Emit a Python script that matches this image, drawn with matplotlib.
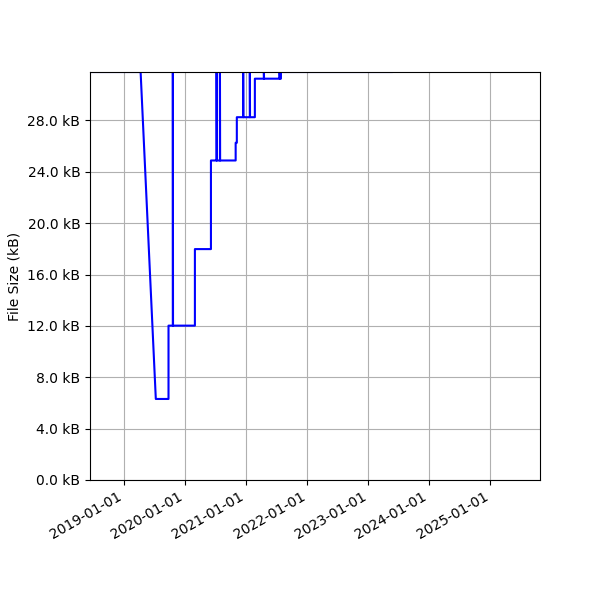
import matplotlib
matplotlib.use("Agg")
import matplotlib.pyplot as plt
import matplotlib.dates as mdates
from matplotlib.ticker import FuncFormatter, MultipleLocator
import numpy as np

# Data: (date, file size in kB)
dates = [
    "2018-06-10", "2019-04-09", "2019-07-09", "2019-09-23", "2019-09-23",
    "2019-10-19", "2019-10-19", "2019-10-20", "2020-02-28", "2020-02-28",
    "2020-06-03", "2020-06-03", "2020-07-07", "2020-07-07", "2020-07-08",
    "2020-07-27", "2020-07-27", "2020-07-28", "2020-10-29", "2020-10-29",
    "2020-11-05", "2020-11-05", "2020-12-13", "2020-12-13", "2020-12-14",
    "2021-01-22", "2021-01-22", "2021-01-23", "2021-02-21", "2021-02-21",
    "2021-04-16", "2021-04-16", "2021-04-17", "2021-07-19", "2021-07-19",
    "2021-07-20", "2021-07-27", "2021-07-27", "2023-05-21",
]
sizes_kb = [
    31.77, 31.77, 6.31, 6.31, 12.02,
    12.02, 31.77, 12.02, 12.02, 17.98,
    17.98, 24.88, 24.88, 31.77, 24.88,
    24.88, 31.77, 24.88, 24.88, 26.26,
    26.26, 28.25, 28.25, 31.77, 28.25,
    28.25, 31.77, 28.25, 28.25, 31.25,
    31.25, 31.77, 31.25, 31.25, 31.77,
    31.25, 31.25, 31.77, 31.77,
]
x_range = ["2018-06-10", "2025-10-25"]
y_label = "File Size (kB)"

x = np.array(dates, dtype="datetime64[D]")
y = np.array(sizes_kb)

fig = plt.figure(figsize=(6, 6), dpi=100)
ax = fig.add_subplot(111)
fig.subplots_adjust(left=0.15, bottom=0.2, right=0.9, top=0.88)

ax.plot(x, y, color="blue", linewidth=1.5)
ax.set_xlim(np.datetime64(x_range[0]), np.datetime64(x_range[1]))
ax.set_ylim(0, y.max())
ax.yaxis.set_major_locator(MultipleLocator(4))
ax.yaxis.set_major_formatter(FuncFormatter(lambda v, p: f"{v:.1f} kB"))
ax.xaxis.set_major_locator(mdates.YearLocator())
ax.xaxis.set_major_formatter(mdates.DateFormatter("%Y-%m-%d"))
for lbl in ax.get_xticklabels():
    lbl.set_rotation(30)
    lbl.set_ha("right")
ax.set_ylabel(y_label)
ax.grid(True)

fig.savefig("out.png", dpi=100)
